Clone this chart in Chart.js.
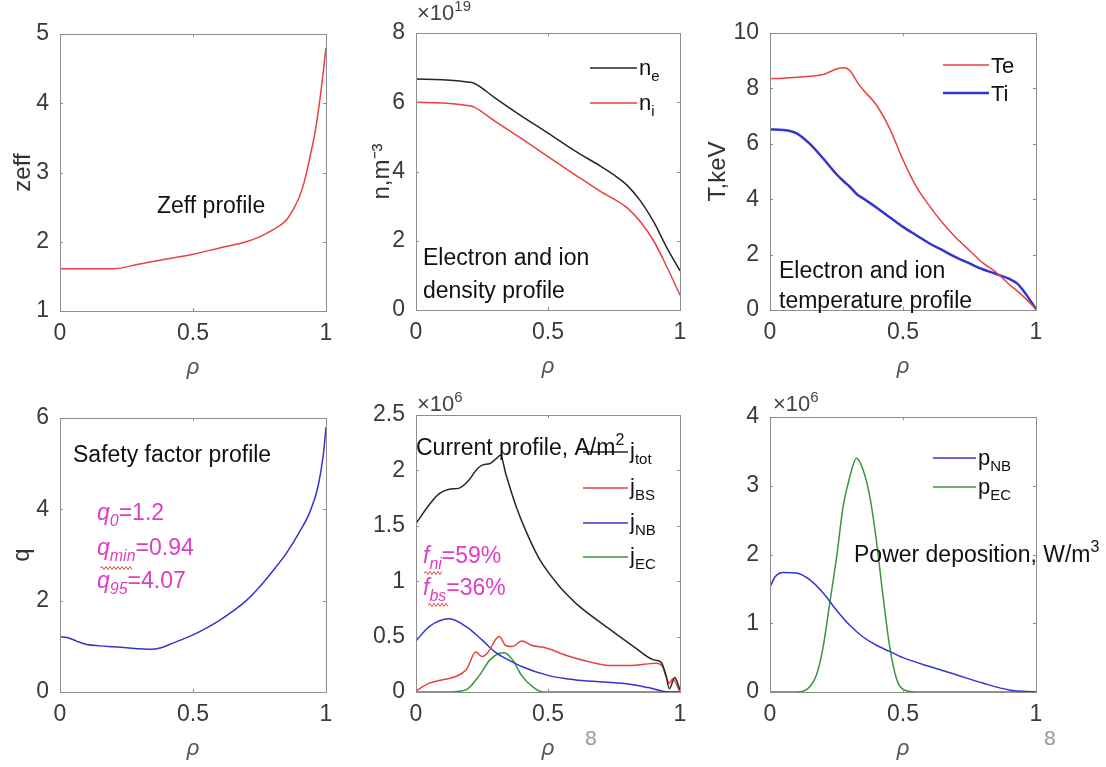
<!DOCTYPE html>
<html>
<head>
<meta charset="utf-8">
<script src="https://cdn.jsdelivr.net/npm/chart.js@4.4.0/dist/chart.umd.min.js"></script>
<style>
body { margin: 0; background: #fff; width: 1106px; height: 767px; overflow: hidden; position: relative; font-family: "Liberation Sans", Arial, sans-serif; }
canvas { position: absolute; }
.note { position: absolute; color: #9a9a9a; font-size: 21px; }
</style>
</head>
<body>
<div class="note" style="left:585px;top:726px">8</div>
<div class="note" style="left:1044px;top:726px">8</div>
<script>
// ---- data ----
const xTicks = [0, 0.5, 1];

const rhoZeff = [0, 0.1, 0.2, 0.3, 0.4, 0.5, 0.6, 0.7, 0.75, 0.8, 0.85, 0.88, 0.9, 0.92, 0.94, 0.96, 0.98, 1.0];
const zeff = [1.61, 1.61, 1.61, 1.68, 1.75, 1.82, 1.91, 2.0, 2.07, 2.17, 2.31, 2.49, 2.65, 2.89, 3.23, 3.61, 4.14, 4.8];

const rhoDens = [0, 0.1, 0.2, 0.22, 0.3, 0.4, 0.5, 0.6, 0.7, 0.75, 0.8, 0.85, 0.9, 0.95, 1.0];
const ne = [6.67, 6.65, 6.58, 6.55, 6.12, 5.6, 5.11, 4.6, 4.15, 3.9, 3.6, 3.15, 2.55, 1.8, 1.13];
const ni = [6.0, 5.98, 5.9, 5.86, 5.45, 4.95, 4.43, 3.92, 3.42, 3.2, 2.95, 2.55, 2.0, 1.25, 0.43];

const rhoTemp = [0, 0.05, 0.1, 0.15, 0.2, 0.25, 0.28, 0.3, 0.33, 0.35, 0.4, 0.45, 0.5, 0.55, 0.6, 0.65, 0.7, 0.75, 0.8, 0.85, 0.9, 0.93, 0.96, 1.0];
const te = [8.35, 8.37, 8.4, 8.44, 8.5, 8.7, 8.75, 8.65, 8.2, 7.95, 7.4, 6.55, 5.42, 4.45, 3.75, 3.13, 2.6, 2.15, 1.7, 1.36, 0.92, 0.68, 0.42, 0.03];
const ti = [6.52, 6.5, 6.38, 6.0, 5.47, 4.9, 4.62, 4.45, 4.15, 4.03, 3.7, 3.35, 3.0, 2.7, 2.4, 2.15, 1.9, 1.68, 1.47, 1.3, 1.12, 0.95, 0.6, 0.03];

const rhoQ = [0, 0.03, 0.06, 0.1, 0.15, 0.2, 0.25, 0.3, 0.34, 0.38, 0.42, 0.45, 0.5, 0.55, 0.6, 0.65, 0.7, 0.75, 0.8, 0.85, 0.9, 0.94, 0.97, 0.99, 1.0];
const q = [1.21, 1.19, 1.12, 1.04, 1.01, 0.99, 0.97, 0.945, 0.935, 0.97, 1.06, 1.13, 1.25, 1.4, 1.57, 1.77, 2.0, 2.3, 2.65, 3.03, 3.5, 3.95, 4.5, 5.2, 5.8];

const rhoJtot = [0, 0.05, 0.088, 0.126, 0.164, 0.2, 0.227, 0.253, 0.278, 0.31, 0.32, 0.34, 0.38, 0.43, 0.47, 0.534, 0.58, 0.62, 0.72, 0.824, 0.9, 0.928, 0.947, 0.96, 0.98, 1.0];
const jTot = [1.52, 1.69, 1.79, 1.83, 1.84, 1.91, 2.0, 2.05, 2.06, 2.12, 2.14, 1.97, 1.67, 1.38, 1.19, 0.98, 0.86, 0.77, 0.59, 0.41, 0.29, 0.27, 0.15, 0.03, 0.13, 0.02];
const rhoJbs = [0, 0.05, 0.1, 0.15, 0.19, 0.227, 0.25, 0.27, 0.315, 0.34, 0.366, 0.4, 0.44, 0.49, 0.57, 0.66, 0.73, 0.82, 0.91, 0.934, 0.947, 0.96, 0.972, 1.0];
const jBS = [0.01, 0.08, 0.11, 0.14, 0.2, 0.36, 0.32, 0.35, 0.5, 0.42, 0.41, 0.46, 0.42, 0.4, 0.33, 0.27, 0.24, 0.24, 0.26, 0.23, 0.14, 0.08, 0.12, 0.0];
const rhoJnb = [0, 0.05, 0.126, 0.19, 0.25, 0.3, 0.35, 0.4, 0.5, 0.6, 0.71, 0.81, 0.88, 0.96, 1.0];
const jNB = [0.46, 0.59, 0.66, 0.59, 0.47, 0.36, 0.29, 0.23, 0.15, 0.11, 0.09, 0.07, 0.04, 0.0, 0.0];
const rhoJec = [0, 0.126, 0.19, 0.24, 0.28, 0.316, 0.335, 0.366, 0.4, 0.44, 0.48, 0.52, 1.0];
const jEC = [0, 0, 0.02, 0.15, 0.29, 0.35, 0.355, 0.29, 0.15, 0.05, 0.0, 0, 0];

const rhoPnb = [0, 0.02, 0.05, 0.1, 0.15, 0.2, 0.25, 0.3, 0.35, 0.4, 0.45, 0.5, 0.6, 0.7, 0.8, 0.9, 1.0];
const pNB = [1.53, 1.68, 1.74, 1.73, 1.63, 1.44, 1.19, 0.97, 0.8, 0.68, 0.59, 0.5, 0.37, 0.25, 0.13, 0.03, 0];
const rhoPec = [0, 0.1, 0.125, 0.15, 0.175, 0.2, 0.225, 0.25, 0.275, 0.3, 0.325, 0.35, 0.375, 0.4, 0.425, 0.45, 0.475, 0.5, 0.55, 1.0];
const pEC = [0, 0, 0.01, 0.08, 0.25, 0.66, 1.3, 1.95, 2.7, 3.13, 3.4, 3.23, 2.85, 2.2, 1.39, 0.66, 0.2, 0.04, 0, 0];

// ---- styling ----
const FONT = '"Liberation Sans", Arial, sans-serif';
const RED = '#e8413f', BLUE = '#3434d2', GREEN = '#3a963a', BLACK = '#262626', MAGENTA = '#e03cc6';

// plain matlab-like tick text: 1 not 1.0
function tickText(v) {
    return String(Number(v.toFixed(3)));
}

function drawRich(ctx, x, y, parts, size, color) {
    let cx = x;
    ctx.fillStyle = color;
    ctx.textBaseline = 'alphabetic';
    ctx.textAlign = 'left';
    for (const p of parts) {
        const small = p.sub || p.sup;
        const fs = small ? Math.round(size * 0.68) : size;
        const dy = p.sub ? size * 0.28 : (p.sup ? -size * 0.42 : 0);
        ctx.font = (p.it ? 'italic ' : '') + fs + 'px ' + FONT;
        ctx.fillText(p.t, cx, y + dy);
        cx += ctx.measureText(p.t).width;
    }
}

function squiggle(ctx, x1, x2, y) {
    ctx.save();
    ctx.strokeStyle = '#d84a3a';
    ctx.lineWidth = 1;
    ctx.beginPath();
    let up = true;
    ctx.moveTo(x1, y);
    for (let x = x1 + 2; x <= x2; x += 2) {
        ctx.lineTo(x, up ? y - 1.5 : y + 1.5);
        up = !up;
    }
    ctx.stroke();
    ctx.restore();
}

// box round the plot area with small inward ticks, matlab style
const boxPlugin = {
    id: 'box',
    afterDraw(chart) {
        const ctx = chart.ctx;
        const { left, top, right, bottom } = chart.chartArea;
        ctx.save();
        ctx.strokeStyle = '#8e8e8e';
        ctx.lineWidth = 1;
        ctx.strokeRect(Math.round(left) + 0.5, Math.round(top) + 0.5, Math.round(right - left), Math.round(bottom - top));
        ctx.beginPath();
        chart.scales.x.ticks.forEach(t => {
            const px = Math.round(chart.scales.x.getPixelForValue(t.value)) + 0.5;
            ctx.moveTo(px, bottom); ctx.lineTo(px, bottom - 3);
            ctx.moveTo(px, top); ctx.lineTo(px, top + 3);
        });
        chart.scales.y.ticks.forEach(t => {
            const py = Math.round(chart.scales.y.getPixelForValue(t.value)) + 0.5;
            ctx.moveTo(left, py); ctx.lineTo(left + 3, py);
            ctx.moveTo(right, py); ctx.lineTo(right - 3, py);
        });
        ctx.stroke();
        ctx.restore();
    }
};

function textPlugin(p, ox, oy) {
    return {
        id: 'notes',
        afterDraw(chart) {
            const ctx = chart.ctx;
            ctx.save();
            (p.lines || []).forEach(l => {
                ctx.strokeStyle = l.color;
                ctx.lineWidth = l.w || 1.5;
                ctx.beginPath();
                ctx.moveTo(l.x1 - ox, l.y - oy);
                ctx.lineTo(l.x2 - ox, l.y - oy);
                ctx.stroke();
            });
            (p.texts || []).forEach(t => {
                drawRich(ctx, t.x - ox, t.y - oy, t.parts, t.size || 23, t.color || '#111');
            });
            (p.squiggles || []).forEach(s => squiggle(ctx, s[0] - ox, s[1] - ox, s[2] - oy));
            ctx.restore();
        }
    };
}

function buildPanel(p) {
    const padT = 35, padR = 70, xH = 75;
    const W = (p.box.r - p.box.l) + p.yW + padR;
    const H = (p.box.b - p.box.t) + padT + xH;
    const ox = p.box.l - p.yW, oy = p.box.t - padT;
    const cv = document.createElement('canvas');
    cv.width = W; cv.height = H;
    cv.style.left = ox + 'px'; cv.style.top = oy + 'px';
    cv.style.width = W + 'px'; cv.style.height = H + 'px';
    document.body.appendChild(cv);

    const datasets = p.series.map(s => ({
        data: s.x.map((v, i) => ({ x: v, y: s.y[i] })),
        borderColor: s.color,
        borderWidth: s.w || 1.5,
        pointRadius: 0,
        cubicInterpolationMode: 'monotone',
        fill: false
    }));

    new Chart(cv, {
        type: 'line',
        data: { datasets: datasets },
        options: {
            responsive: false,
            animation: false,
            events: [],
            layout: { padding: { left: 0, top: padT, right: padR, bottom: 0 } },
            plugins: { legend: { display: false }, tooltip: { enabled: false } },
            scales: {
                x: {
                    type: 'linear', min: 0, max: 1,
                    afterBuildTicks: s => { s.ticks = xTicks.map(v => ({ value: v })); },
                    grid: { display: false, drawTicks: false },
                    border: { display: false },
                    ticks: { font: { size: 23, family: FONT }, color: '#3a3a3a', padding: 9, maxRotation: 0, callback: tickText },
                    title: { display: true, text: 'ρ', color: '#555', font: { size: 22, style: 'italic', family: FONT },
                             padding: { top: 0, bottom: xH - 57 - 13.2 } },
                    afterFit: s => { s.height = xH; }
                },
                y: {
                    min: p.yMin, max: p.yMax,
                    grid: { display: false, drawTicks: false },
                    border: { display: false },
                    ticks: { stepSize: p.yStep, font: { size: 23, family: FONT }, color: '#3a3a3a', padding: 11, callback: tickText },
                    title: { display: !!p.yTitle, text: p.yTitle || '', color: '#333', font: { size: 24, family: FONT },
                             padding: { top: p.yW - (p.yTitleOff || 37) - 14.4, bottom: 0 } },
                    afterFit: s => { s.width = p.yW; }
                }
            }
        },
        plugins: [boxPlugin, textPlugin(p, ox, oy)]
    });
}

const panels = [
    {
        box: { l: 60, t: 34, r: 326, b: 311 }, yW: 60, yMin: 1, yMax: 5, yStep: 1,
        yTitle: 'zeff', yTitleOff: 37,
        series: [{ x: rhoZeff, y: zeff, color: RED }],
        texts: [{ x: 157, y: 213, parts: [{ t: 'Zeff profile' }] }]
    },
    {
        box: { l: 416, t: 33, r: 680, b: 310 }, yW: 60, yMin: 0, yMax: 8, yStep: 2,
        yTitle: 'n,m⁻³', yTitleOff: 34,
        series: [{ x: rhoDens, y: ne, color: BLACK }, { x: rhoDens, y: ni, color: RED }],
        lines: [{ x1: 590, x2: 637, y: 68, color: BLACK }, { x1: 590, x2: 637, y: 103, color: RED }],
        texts: [
            { x: 417, y: 20, size: 22, color: '#444', parts: [{ t: '×10' }, { t: '19', sup: true }] },
            { x: 639, y: 75, size: 22, parts: [{ t: 'n' }, { t: 'e', sub: true }] },
            { x: 639, y: 110, size: 22, parts: [{ t: 'n' }, { t: 'i', sub: true }] },
            { x: 423, y: 265, parts: [{ t: 'Electron and ion' }] },
            { x: 423, y: 298, parts: [{ t: 'density profile' }] }
        ]
    },
    {
        box: { l: 770, t: 33, r: 1036, b: 310 }, yW: 80, yMin: 0, yMax: 10, yStep: 2,
        yTitle: 'T,keV', yTitleOff: 52,
        series: [{ x: rhoTemp, y: te, color: RED }, { x: rhoTemp, y: ti, color: BLUE, w: 2.5 }],
        lines: [{ x1: 943, x2: 989, y: 65, color: RED }, { x1: 943, x2: 989, y: 93, color: BLUE, w: 2.5 }],
        texts: [
            { x: 991, y: 73, size: 22, parts: [{ t: 'Te' }] },
            { x: 991, y: 101, size: 22, parts: [{ t: 'Ti' }] },
            { x: 779, y: 278, parts: [{ t: 'Electron and ion' }] },
            { x: 779, y: 308, parts: [{ t: 'temperature profile' }] }
        ]
    },
    {
        box: { l: 60, t: 418, r: 326, b: 692 }, yW: 60, yMin: 0, yMax: 6, yStep: 2,
        yTitle: 'q', yTitleOff: 38,
        series: [{ x: rhoQ, y: q, color: BLUE }],
        texts: [
            { x: 73, y: 462, parts: [{ t: 'Safety factor profile' }] },
            { x: 97, y: 520, color: MAGENTA, parts: [{ t: 'q', it: true }, { t: '0', sub: true, it: true }, { t: '=1.2' }] },
            { x: 97, y: 555, color: MAGENTA, parts: [{ t: 'q', it: true }, { t: 'min', sub: true, it: true }, { t: '=0.94' }] },
            { x: 97, y: 588, color: MAGENTA, parts: [{ t: 'q', it: true }, { t: '95', sub: true, it: true }, { t: '=4.07' }] }
        ],
        squiggles: [[100, 132, 568]]
    },
    {
        box: { l: 416, t: 415, r: 680, b: 692 }, yW: 60, yMin: 0, yMax: 2.5, yStep: 0.5,
        series: [
            { x: rhoJtot, y: jTot, color: BLACK },
            { x: rhoJbs, y: jBS, color: RED },
            { x: rhoJnb, y: jNB, color: BLUE },
            { x: rhoJec, y: jEC, color: GREEN }
        ],
        lines: [
            { x1: 583, x2: 628, y: 452, color: BLACK },
            { x1: 583, x2: 628, y: 488, color: RED },
            { x1: 583, x2: 628, y: 523, color: BLUE },
            { x1: 583, x2: 628, y: 557, color: GREEN }
        ],
        texts: [
            { x: 417, y: 411, size: 22, color: '#444', parts: [{ t: '×10' }, { t: '6', sup: true }] },
            { x: 416, y: 455, parts: [{ t: 'Current profile, A/m' }, { t: '2', sup: true }] },
            { x: 630, y: 458, size: 22, parts: [{ t: 'j' }, { t: 'tot', sub: true }] },
            { x: 630, y: 494, size: 22, parts: [{ t: 'j' }, { t: 'BS', sub: true }] },
            { x: 630, y: 529, size: 22, parts: [{ t: 'j' }, { t: 'NB', sub: true }] },
            { x: 630, y: 563, size: 22, parts: [{ t: 'j' }, { t: 'EC', sub: true }] },
            { x: 423, y: 563, color: MAGENTA, parts: [{ t: 'f', it: true }, { t: 'ni', sub: true, it: true }, { t: '=59%' }] },
            { x: 423, y: 595, color: MAGENTA, parts: [{ t: 'f', it: true }, { t: 'bs', sub: true, it: true }, { t: '=36%' }] }
        ],
        squiggles: [[424, 443, 573], [428, 448, 605]]
    },
    {
        box: { l: 770, t: 417, r: 1036, b: 692 }, yW: 60, yMin: 0, yMax: 4, yStep: 1,
        series: [{ x: rhoPnb, y: pNB, color: BLUE }, { x: rhoPec, y: pEC, color: GREEN }],
        lines: [{ x1: 933, x2: 976, y: 458, color: BLUE }, { x1: 933, x2: 976, y: 487, color: GREEN }],
        texts: [
            { x: 773, y: 411, size: 22, color: '#444', parts: [{ t: '×10' }, { t: '6', sup: true }] },
            { x: 978, y: 465, size: 22, parts: [{ t: 'p' }, { t: 'NB', sub: true }] },
            { x: 978, y: 494, size: 22, parts: [{ t: 'p' }, { t: 'EC', sub: true }] },
            { x: 854, y: 562, parts: [{ t: 'Power deposition, W/m' }, { t: '3', sup: true }] }
        ]
    }
];

panels.forEach(buildPanel);
</script>
</body>
</html>
